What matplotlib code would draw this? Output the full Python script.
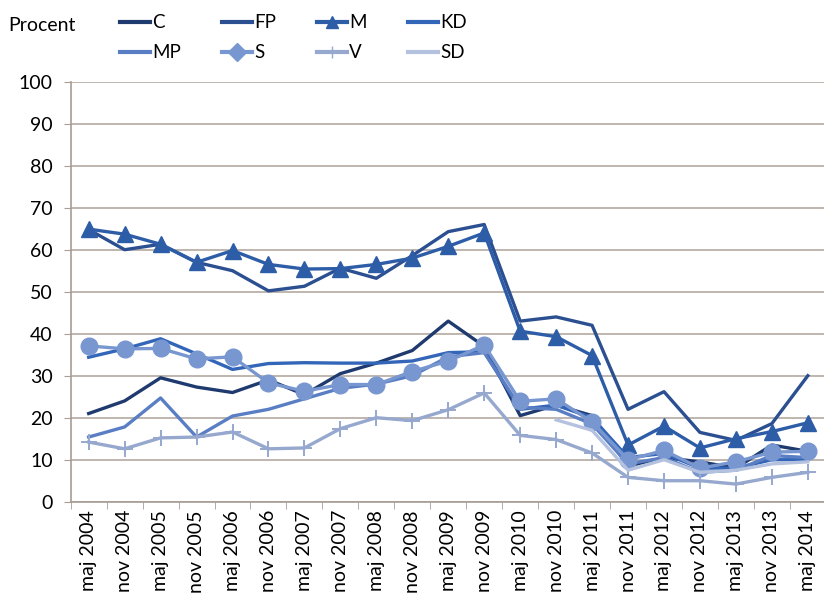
import numpy as np
import matplotlib
matplotlib.use("Agg")
import matplotlib.pyplot as plt
from matplotlib.lines import Line2D

plt.rcParams['font.family'] = ['Lato', 'DejaVu Sans']

# periods (half-year surveys)
periods = ['maj 2004', 'nov 2004', 'maj 2005', 'nov 2005', 'maj 2006', 'nov 2006',
           'maj 2007', 'nov 2007', 'maj 2008', 'nov 2008', 'maj 2009', 'nov 2009',
           'maj 2010', 'nov 2010', 'maj 2011', 'nov 2011', 'maj 2012', 'nov 2012',
           'maj 2013', 'nov 2013', 'maj 2014']

nan = np.nan
C = [21, 24, 29.5, 27.3, 26, 29, 25.5, 30.5, 33, 36, 43, 37,
     20.5, 23, 20.5, 8.5, 10.5, 9.5, 8, 13.5, 12]
FP = [64.8, 60, 61.3, 57, 55, 50.2, 51.3, 55.6, 53.2, 58.6, 64.3, 66,
      43, 44, 42, 22, 26.2, 16.5, 14.6, 18.6, 30]
M = [64.9, 63.7, 61.3, 57, 59.8, 56.5, 55.4, 55.5, 56.5, 58, 60.8, 64,
     40.6, 39.3, 34.8, 13.5, 18, 12.8, 15, 16.7, 18.8]
KD = [34.4, 36.4, 38.8, 35.2, 31.5, 32.9, 33.1, 33, 33, 33.5, 35.5, 35.7,
      22, 23, 20, 10.5, 11.5, 8, 8, 10, 10]
MP = [15.4, 17.8, 24.7, 15.4, 20.4, 22, 24.5, 27, 28, 30, 34.5, 35.5,
      22.5, 22, 18.5, 9, 10.5, 7, 7.5, 11, 10.5]
S = [37.1, 36.4, 36.5, 34, 34.5, 28.3, 26.3, 27.9, 27.9, 31, 33.5, 37.3,
     23.9, 24.5, 19, 10, 12.2, 8, 9.5, 11.8, 12]
V = [14.2, 12.6, 15.2, 15.4, 16.6, 12.6, 12.8, 17.4, 20, 19.3, 21.9, 25.9,
     15.8, 14.8, 11.6, 5.8, 5, 5, 4.2, 5.8, 7]
SD = [nan] * 13 + [19.5, 17, 7.5, 10, 7, 7.5, 9, 9.5]

series = [
    ('C', C, '#1f3a6e', None),
    ('FP', FP, '#2b4f91', None),
    ('M', M, '#2e5da8', '^'),
    ('KD', KD, '#3366b8', None),
    ('MP', MP, '#5a7ec4', None),
    ('S', S, '#7896d0', 'o'),
    ('V', V, '#96a8ce', '+'),
    ('SD', SD, '#b4c2df', None),
]

fig = plt.figure(figsize=(8.24, 5.99), dpi=100)
ax = fig.add_axes([0.0858, 0.1624, 0.9142, 0.7012])

x = np.arange(len(periods))
for name, vals, col, mk in series:
    if mk == '+':
        ax.plot(x, vals, color=col, lw=2.4, marker='+', ms=12, mew=1.4)
    elif mk:
        ax.plot(x, vals, color=col, lw=2.4, marker=mk, ms=12)
    else:
        ax.plot(x, vals, color=col, lw=2.4)

ax.set_ylim(0, 100)
ax.set_yticks(range(0, 101, 10))
ax.set_xlim(-0.5, 20.45)
ax.set_xticks(x)
ax.set_xticklabels(periods, rotation=90, fontsize=14)
ax.set_xticks(np.arange(-0.5, 20.5, 1), minor=True)
ax.tick_params(axis='x', which='major', length=0, pad=6)
ax.tick_params(axis='x', which='minor', length=5, color='#a89c94')
ax.tick_params(axis='y', length=5, color='#a89c94', labelsize=14, pad=8)

ax.grid(axis='y', color='#b3a9a1', lw=1.2)
ax.set_axisbelow(True)
for s in ['top', 'right']:
    ax.spines[s].set_visible(False)
ax.spines['left'].set_color('#a89c94')
ax.spines['bottom'].set_color('#a89c94')
ax.spines['left'].set_linewidth(1.2)
ax.spines['bottom'].set_linewidth(1.2)

fig.text(0.01, 0.957, 'Procent', fontsize=14, va='center')

# legend (S shows a diamond in the original legend)
handles = []
for name, vals, col, mk in series:
    lm = {'^': '^', 'o': 'D', '+': '|'}.get(mk, None)
    handles.append(Line2D([], [], color=col, lw=3, marker=lm, ms=9))
labels = [s[0] for s in series]
order = [0, 4, 1, 5, 2, 6, 3, 7]
fig.legend([handles[i] for i in order], [labels[i] for i in order],
           loc='upper left', bbox_to_anchor=(0.146, 0.976), ncol=4,
           frameon=False, fontsize=13.5, handlelength=1.6, handletextpad=0.1,
           columnspacing=2.2, labelspacing=0.68, borderpad=0, borderaxespad=0)

fig.savefig('out.png', dpi=100)
